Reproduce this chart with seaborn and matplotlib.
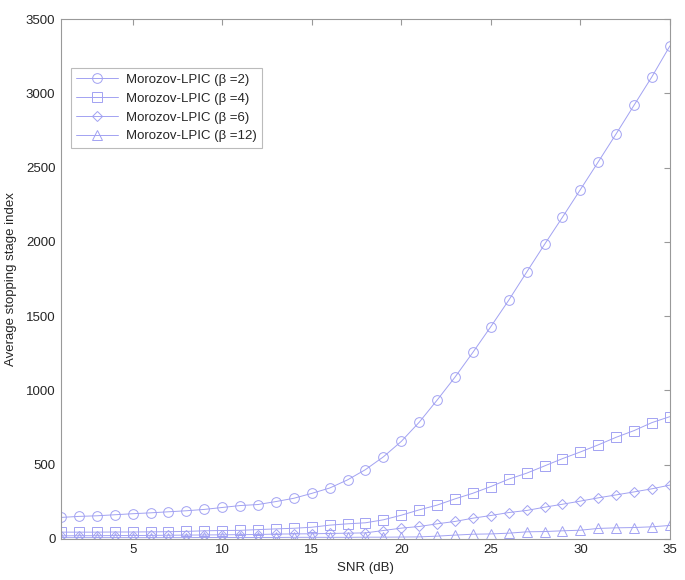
import pandas as pd
import numpy as np
import matplotlib.pyplot as plt
import seaborn as sns

sns.set_style("white")
plt.rcParams['font.family'] = ['Liberation Sans', 'DejaVu Sans']

snr = list(range(1, 36))

beta2 = [144, 151, 155, 162, 169, 175, 182, 189, 198, 211, 224, 231, 251, 273, 306,
         342, 397, 466, 552, 656, 785, 934, 1089, 1256, 1429, 1607, 1796, 1983, 2166,
         2352, 2539, 2728, 2921, 3113, 3320]
beta4 = [45, 45, 45, 46, 46, 47, 48, 50, 54, 56, 57, 62, 67, 71, 78,
         92, 101, 108, 128, 159, 195, 227, 269, 307, 352, 402, 442, 491, 540,
         585, 633, 684, 729, 783, 823]
beta6 = [20, 21, 21, 22, 22, 23, 24, 25, 26, 27, 28, 29, 32, 33, 34,
         36, 38, 40, 56, 72, 83, 101, 117, 139, 157, 177, 191, 213, 233,
         254, 276, 296, 316, 337, 362]
beta12 = [8, 8, 8, 8, 8, 8, 8, 8, 9, 9, 9, 9, 9, 10, 10,
          10, 10, 11, 11, 12, 13, 18, 25, 31, 33, 38, 47, 49, 54,
          58, 70, 74, 76, 81, 90]

series = [
    ("Morozov-LPIC (\u03b2 =2)", beta2, "o", 7),
    ("Morozov-LPIC (\u03b2 =4)", beta4, "s", 7),
    ("Morozov-LPIC (\u03b2 =6)", beta6, "D", 5.5),
    ("Morozov-LPIC (\u03b2 =12)", beta12, "^", 7),
]

col = '#a2a2f2'

fig = plt.figure(figsize=(6.85, 5.8), dpi=100)
ax = fig.add_axes([0.089, 0.071, 0.889, 0.896])

for label, vals, mk, ms in series:
    df = pd.DataFrame({'snr': snr, 'val': vals})
    sns.lineplot(data=df, x='snr', y='val', ax=ax, color=col, lw=0.7,
                 marker=mk, markersize=ms, markerfacecolor='none',
                 markeredgecolor=col, markeredgewidth=0.7, label=label)

ax.set_xlim(1, 35)
ax.set_ylim(0, 3500)
ax.set_xticks([5, 10, 15, 20, 25, 30, 35])
ax.set_yticks(np.arange(0, 3501, 500))
ax.tick_params(direction='in', top=True, right=True, length=4,
               color='#999999', labelsize=9.5, pad=4)
for s in ax.spines.values():
    s.set_color('#999999')
    s.set_linewidth(0.8)
ax.set_xlabel('SNR (dB)', fontsize=9.5, labelpad=4)
ax.set_ylabel('Average stopping stage index', fontsize=9.5, labelpad=6)

leg = ax.legend(loc='upper left', bbox_to_anchor=(0.005, 0.918), fontsize=9.5,
                frameon=True, fancybox=False, edgecolor='#aaaaaa',
                handlelength=3.2, handletextpad=0.6, borderpad=0.4,
                labelspacing=0.5)
leg.get_frame().set_linewidth(0.8)

fig.savefig('out.png', dpi=100)
